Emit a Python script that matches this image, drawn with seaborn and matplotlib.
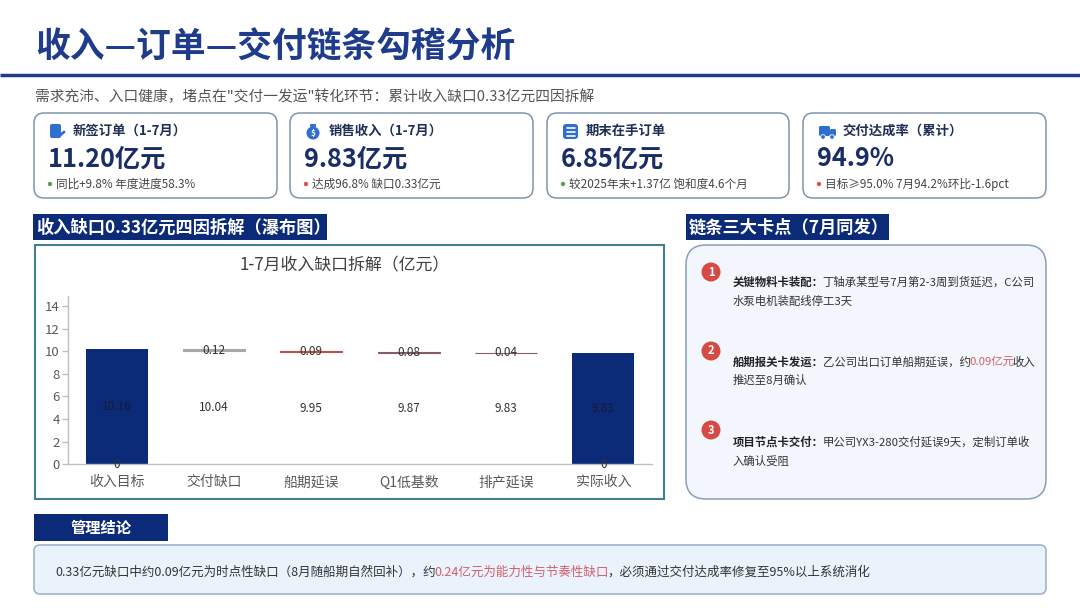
import matplotlib
matplotlib.use("Agg")
import matplotlib.pyplot as plt
from matplotlib.patches import FancyBboxPatch, Rectangle, Circle
import seaborn as sns
import numpy as np
import pandas as pd

# ---------------- data ----------------
page_title = "收入—订单—交付链条勾稽分析"
page_subtitle = '需求充沛、入口健康，堵点在"交付一发运"转化环节：累计收入缺口0.33亿元四因拆解'

kpi_titles = ["新签订单（1-7月）", "销售收入（1-7月）", "期末在手订单", "交付达成率（累计）"]
kpi_values = ["11.20亿元", "9.83亿元", "6.85亿元", "94.9%"]
kpi_notes = ["同比+9.8% 年度进度58.3%", "达成96.8% 缺口0.33亿元",
             "较2025年末+1.37亿 饱和度4.6个月", "目标≥95.0% 7月94.2%环比-1.6pct"]
kpi_status = ["good", "bad", "good", "bad"]

chart_header = "收入缺口0.33亿元四因拆解（瀑布图）"
chart_title = "1-7月收入缺口拆解（亿元）"
categories = ["收入目标", "交付缺口", "船期延误", "Q1低基数", "排产延误", "实际收入"]
base_values = [10.16, 10.04, 9.95, 9.87, 9.83, 9.83]
gap_values = [0.0, 0.12, 0.09, 0.08, 0.04, 0.0]
is_total = [True, False, False, False, False, True]
y_ticks = [0, 2, 4, 6, 8, 10, 12, 14]

issue_header = "链条三大卡点（7月同发）"
issue_heads = ["关键物料卡装配：", "船期报关卡发运：", "项目节点卡交付："]
issue_line1 = [[("丁轴承某型号7月第2-3周到货延迟，C公司", "n")],
               [("乙公司出口订单船期延误，约", "n"), ("0.09亿元", "r"), ("收入", "n")],
               [("甲公司YX3-280交付延误9天，定制订单收", "n")]]
issue_line2 = ["水泵电机装配线停工3天", "推迟至8月确认", "入确认受阻"]

concl_header = "管理结论"
concl_parts = [("0.33亿元缺口中约0.09亿元为时点性缺口（8月随船期自然回补），约", "n"),
               ("0.24亿元为能力性与节奏性缺口", "r"),
               ("，必须通过交付达成率修复至95%以上系统消化", "n")]

# ---------------- style ----------------
sns.set_style("white")
plt.rcParams["font.family"] = ["Noto Sans CJK SC", "DejaVu Sans"]

NAVY = "#0b2a78"
TITLE_C = "#1e3b8c"
VAL_C = "#1a2d66"
RED = "#d9534f"
GREEN = "#5aa05a"
TXT = "#333333"
RED_TXT = "#d0606a"

W, H = 1080, 608
fig = plt.figure(figsize=(W / 100, H / 100), dpi=100, facecolor="white")
bg = fig.add_axes([0, 0, 1, 1])
bg.set_xlim(0, W)
bg.set_ylim(H, 0)
bg.axis("off")


def rbox(x0, y0, x1, y1, r, fc, ec, lw=1.0, z=1):
    p = FancyBboxPatch((x0, y0), x1 - x0, y1 - y0,
                       boxstyle=f"round,pad=0,rounding_size={r}",
                       fc=fc, ec=ec, lw=lw, zorder=z)
    bg.add_patch(p)
    return p


def rich(x, y, parts, size):
    prev = None
    for s, c, wgt in parts:
        if prev is None:
            prev = bg.text(x, y, s, fontsize=size, color=c, fontweight=wgt,
                           ha="left", va="center", zorder=5)
        else:
            prev = bg.annotate(s, xy=(1, 0.5), xycoords=prev, fontsize=size,
                               color=c, fontweight=wgt, ha="left", va="center",
                               xytext=(-1.5, 0), textcoords="offset pixels",
                               zorder=5)
    return prev


# ---------------- title ----------------
bg.text(35, 47, page_title, fontsize=25, fontweight="bold", color=TITLE_C,
        ha="left", va="center")
bg.plot([0, W], [75, 75], color=TITLE_C, lw=2.5, solid_capstyle="butt")
bg.text(35, 97, page_subtitle, fontsize=10.6, color="#555555", ha="left", va="center")

# ---------------- KPI cards ----------------
card_x = [(34, 277), (290, 533), (547, 789), (803, 1046)]
for i, (x0, x1) in enumerate(card_x):
    rbox(x0, 113, x1, 198, 10, "white", "#7d95ab", 1.1)
    # icon
    ix, iy = x0 + 16, 124
    if i == 0:
        rbox(ix, iy, ix + 11, iy + 14, 2, "#2e6fd0", "none", 0, 4)
        bg.plot([ix + 8, ix + 14], [iy + 13, iy + 8], color="#2e6fd0", lw=2, zorder=4)
    elif i == 1:
        bg.add_patch(Circle((ix + 7, iy + 9), 6.5, fc="#2e6fd0", ec="none", zorder=4))
        rbox(ix + 4, iy, ix + 10, iy + 3, 1, "#2e6fd0", "none", 0, 4)
        bg.text(ix + 7, iy + 9.5, "$", fontsize=6, color="white", ha="center",
                va="center", fontweight="bold", zorder=5)
    elif i == 2:
        rbox(ix, iy, ix + 15, iy + 15, 3, "#2e6fd0", "none", 0, 4)
        for k in range(3):
            bg.plot([ix + 4, ix + 12], [iy + 4 + k * 3.8] * 2, color="white", lw=1.2, zorder=5)
    else:
        rbox(ix, iy + 2, ix + 11, iy + 12, 1.5, "#2e6fd0", "none", 0, 4)
        rbox(ix + 11, iy + 5, ix + 17, iy + 12, 1.5, "#2e6fd0", "none", 0, 4)
        bg.add_patch(Circle((ix + 4, iy + 13), 2.3, fc="#2e6fd0", ec="white", lw=0.6, zorder=5))
        bg.add_patch(Circle((ix + 13, iy + 13), 2.3, fc="#2e6fd0", ec="white", lw=0.6, zorder=5))
    bg.text(x0 + 39, 131, kpi_titles[i], fontsize=9.6, fontweight="bold",
            color="#1f2f55", ha="left", va="center")
    bg.text(x0 + 14, 159, kpi_values[i], fontsize=18.2, fontweight="bold",
            color=VAL_C, ha="left", va="center")
    dot_c = GREEN if kpi_status[i] == "good" else RED
    bg.add_patch(Circle((x0 + 16, 184), 2.2, fc=dot_c, ec="none", zorder=4))
    bg.text(x0 + 22, 184, kpi_notes[i], fontsize=8.4, color="#444444",
            ha="left", va="center")

# ---------------- section headers ----------------
bg.add_patch(Rectangle((33, 214), 294, 26, fc=NAVY, ec="none"))
bg.text(36, 227.5, chart_header, fontsize=12.4, fontweight="bold", color="white",
        ha="left", va="center")
bg.add_patch(Rectangle((686, 214), 203, 26, fc=NAVY, ec="none"))
bg.text(689, 227.5, issue_header, fontsize=12.4, fontweight="bold", color="white",
        ha="left", va="center")

# chart frame
bg.add_patch(Rectangle((35, 245), 629, 254, fc="white", ec="#3f7f8f", lw=1.5))
bg.text(345, 265, chart_title, fontsize=12.2, color="#404040", ha="center", va="center")

# ---------------- waterfall chart ----------------
ax = fig.add_axes([68 / W, (H - 464.3) / H, (652 - 68) / W, (464.3 - 295.8) / H])
ax.set_facecolor("none")
df = pd.DataFrame({"cat": categories, "base": base_values, "gap": gap_values,
                   "total": is_total})
pal = {c: (NAVY if t else "white") for c, t in zip(categories, is_total)}
sns.barplot(data=df, x="cat", y="base", hue="cat", palette=pal, legend=False,
            width=0.64, saturation=1, ax=ax, order=categories, hue_order=categories)
for p in ax.patches:
    idx = int(round(p.get_x() + p.get_width() / 2))
    if not is_total[idx]:
        p.set_facecolor("none")
    p.set_edgecolor("none")

gap_colors = ["none", "#a8a8a8", "#c0504d", "#806060", "#806060", "none"]
xs = np.arange(len(categories))
mask = np.array(gap_values) > 0
ax.bar(xs[mask], np.array(gap_values)[mask], bottom=np.array(base_values)[mask],
       width=0.64, color=np.array(gap_colors)[mask], edgecolor=np.array(gap_colors)[mask],
       linewidth=0.8, zorder=3)

for i, (b, g, t) in enumerate(zip(base_values, gap_values, is_total)):
    ax.text(i, b / 2, f"{b:.2f}", ha="center", va="center", fontsize=8.5,
            color="#1a1a33" if t else TXT, zorder=4)
    if t:
        ax.text(i, 0, "0", ha="center", va="center", fontsize=8.5, color=TXT, zorder=4)
    else:
        ax.text(i, b + g / 2, f"{g:.2f}", ha="center", va="center", fontsize=8.5,
                color=TXT, zorder=4)

ax.set_xlim(-0.5, len(categories) - 0.5)
ax.set_ylim(0, 14.9)
ax.set_yticks(y_ticks)
ax.set_xticks(xs)
ax.set_xticklabels(categories)
ax.set_xticks(np.arange(-0.5, len(categories), 1), minor=True)
ax.tick_params(axis="x", which="major", length=0, pad=8, labelsize=10, labelcolor="#595959")
ax.tick_params(axis="x", which="minor", length=5, color="#bfbfbf", width=1)
ax.tick_params(axis="y", length=4, color="#bfbfbf", width=1, labelsize=9.5,
               labelcolor="#595959", pad=2, left=True)
ax.set_xlabel("")
ax.set_ylabel("")
for s in ["top", "right"]:
    ax.spines[s].set_visible(False)
for s in ["left", "bottom"]:
    ax.spines[s].set_color("#bfbfbf")
    ax.spines[s].set_linewidth(1)

# ---------------- issues panel ----------------
rbox(686, 245, 1046, 499, 20, "#f3f6fc", "#8a9fb7", 1.1)
circle_y = [272, 351, 430]
line1_y = [282, 362, 442]
line2_y = [301, 380, 461]
for i in range(3):
    bg.add_patch(Circle((711, circle_y[i]), 9.5, fc="#d54a45", ec="none", zorder=4))
    bg.text(711, circle_y[i], str(i + 1), fontsize=8, fontweight="bold", color="white",
            ha="center", va="center", zorder=5)
    parts = [(issue_heads[i], "#222222", "bold")]
    for s, k in issue_line1[i]:
        parts.append((s, RED_TXT if k == "r" else "#333333", "normal"))
    rich(733, line1_y[i], parts, 8.2)
    bg.text(733, line2_y[i], issue_line2[i], fontsize=8.2, color="#333333",
            ha="left", va="center", zorder=5)

# ---------------- conclusion ----------------
bg.add_patch(Rectangle((34, 514), 134, 27, fc=NAVY, ec="none"))
bg.text(101, 527.5, concl_header, fontsize=11, fontweight="bold", color="white",
        ha="center", va="center")
rbox(34, 545, 1046, 594, 6, "#eaf2fc", "#9fb3cc", 1.2)
rich(55, 572, [(s, RED_TXT if k == "r" else "#333333", "normal") for s, k in concl_parts], 9.0)

fig.savefig("out.png", dpi=100, facecolor="white")
